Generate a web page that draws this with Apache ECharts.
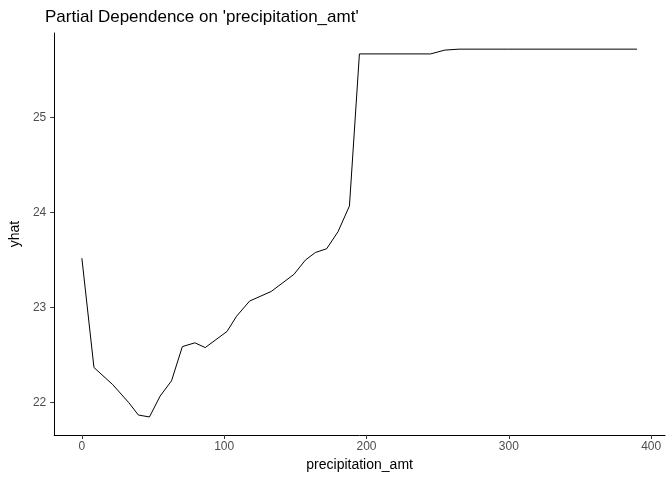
<!DOCTYPE html>
<html>
  <head>
    <meta charset="utf-8" />
    <script src="https://cdn.jsdelivr.net/npm/echarts@6/dist/echarts.min.js"></script>
  </head>
  <body style="margin: 0; padding: 0; border: 0">
    <div id="main" style="width: 672px; height: 480px"></div>
    <script type="text/javascript">
      var xs = [0, 8.5, 21.7, 33, 39.7, 47.5, 55, 63, 70.6, 79.4, 86.7, 102, 108.7, 117.9, 133, 149, 157, 164, 172, 180, 188, 195, 245, 255, 265, 300, 350, 390];
      var yhat = [23.52, 22.37, 22.19, 22.0, 21.87, 21.85, 22.07, 22.23, 22.59, 22.63, 22.58, 22.75, 22.91, 23.07, 23.17, 23.35, 23.5, 23.58, 23.62, 23.8, 24.07, 25.67, 25.67, 25.71, 25.72, 25.72, 25.72, 25.72];
      var xTicks = [0, 100, 200, 300, 400];
      var yTicks = [22, 23, 24, 25];
      var chart = echarts.init(document.getElementById("main"));
      var axisText = { color: "#4d4d4d", fontSize: 12, fontFamily: "Liberation Sans" };
      chart.setOption({
        animation: false,
        title: {
          text: "Partial Dependence on 'precipitation_amt'",
          left: 40, top: 4,
          textStyle: { fontSize: 17, fontWeight: "normal", color: "#000", fontFamily: "Liberation Sans" },
        },
        grid: { left: 45, right: 7, top: 33, bottom: 45 },
        xAxis: {
          type: "value", min: -19.4, max: 409.7,
          name: "precipitation_amt", nameLocation: "middle", nameGap: 22,
          nameTextStyle: { fontSize: 14, color: "#000", fontFamily: "Liberation Sans" },
          axisLine: { onZero: false, lineStyle: { color: "#000" } },
          axisTick: { length: 4, lineStyle: { color: "#333" }, customValues: xTicks },
          axisLabel: Object.assign({ margin: 6, customValues: xTicks }, axisText),
          splitLine: { show: false },
        },
        yAxis: {
          type: "value", min: 21.66, max: 25.89,
          name: "yhat", nameLocation: "middle", nameGap: 30,
          nameTextStyle: { fontSize: 14, color: "#000", fontFamily: "Liberation Sans" },
          axisLine: { show: true, onZero: false, lineStyle: { color: "#000" } },
          axisTick: { show: true, length: 4, lineStyle: { color: "#333" }, customValues: yTicks },
          axisLabel: Object.assign({ customValues: yTicks, margin: 8 }, axisText),
          splitLine: { show: false },
        },
        series: [{
          type: "line", showSymbol: false,
          data: xs.map(function (x, i) { return [x, yhat[i]]; }),
          lineStyle: { color: "#000", width: 1 },
        }],
      });
    </script>
  </body>
</html>
